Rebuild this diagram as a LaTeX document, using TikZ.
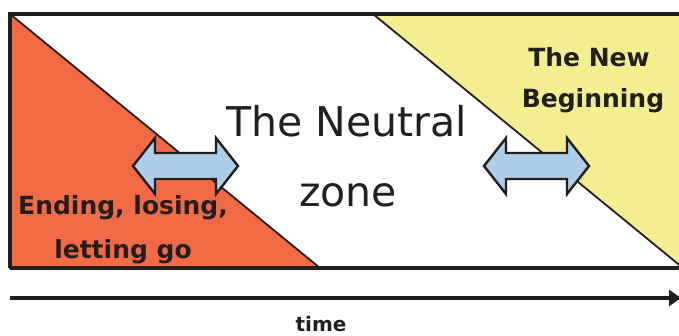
\documentclass[tikz,border=0pt]{standalone}
\usepackage{fontspec}
\setmainfont{DejaVu Sans}
\usetikzlibrary{arrows.meta}

\definecolor{endred}{HTML}{F26A45}
\definecolor{newyellow}{HTML}{F3EF91}
\definecolor{arrowblue}{HTML}{AECDE8}
\definecolor{ink}{HTML}{231F20}

\begin{document}
\begin{tikzpicture}[x=1pt, y=-1pt,
    phase/.style={draw=ink, line width=1.8pt, line join=miter},
    twoway/.style={draw=ink, fill=arrowblue, line width=2.4pt, line join=miter},
    label/.style={text=ink, font=\bfseries\fontsize{25}{30}\selectfont, inner sep=0pt},
    big/.style={text=ink, font=\fontsize{41}{49}\selectfont, inner sep=0pt}]
  \useasboundingbox (0,0) rectangle (679,335);
  \begin{scope}
    \clip (0,0) rectangle (679,335);
    % the three phases
    \fill[white] (10,14) rectangle (700,268);
    \filldraw[phase, fill=endred] (10,14) -- (10,268) -- (320,268) -- cycle;
    \filldraw[phase, fill=newyellow] (373,14) -- (683,268) -- (700,268) -- (700,14) -- cycle;
    \draw[ink, line width=3.5pt] (10,268) -- (10,14) -- (700,14);
    \draw[ink, line width=3.5pt] (10,268) -- (700,268);
    % transitions
    \foreach \cx in {185.5, 536.5} {
      \draw[twoway] (\cx-52.5,166) -- (\cx-30.5,138) -- (\cx-30.5,153) -- (\cx+30.5,153)
        -- (\cx+30.5,138) -- (\cx+52.5,166) -- (\cx+30.5,194) -- (\cx+30.5,179)
        -- (\cx-30.5,179) -- (\cx-30.5,194) -- cycle;
    }
    % time axis
    \coordinate (t0) at (10,298);
    \coordinate (t1) at (681,298);
    \draw[ink, line width=3.5pt, -{Triangle[length=12pt,width=16pt]}] (t0) -- (t1);
  \end{scope}

  \node[big] (neutral) at (347,121) {The Neutral};
  \node[big] (zone) at (348,195) {zone};
  \node[label] (new) at (589,57) {The New};
  \node[label] (begin) at (593,101) {Beginning};
  \node[label] (ending) at (123,208) {Ending, losing,};
  \node[label] (letgo) at (123,252) {letting go};
  \node[label, font=\bfseries\fontsize{20}{24}\selectfont] (time) at (321,324) {time};
\end{tikzpicture}
\end{document}
